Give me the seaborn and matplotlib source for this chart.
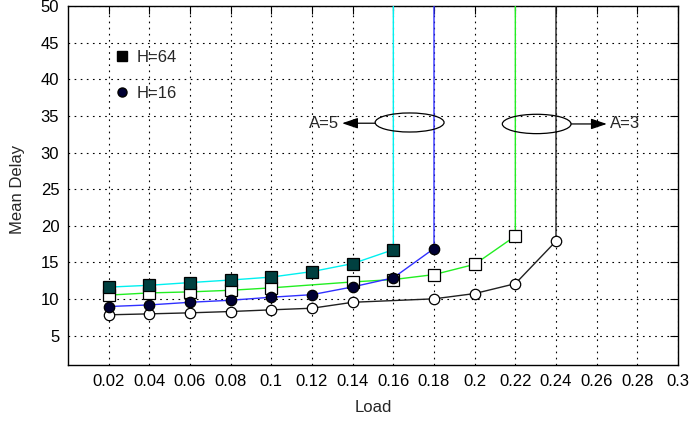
import numpy as np
import pandas as pd
import matplotlib
matplotlib.use("Agg")
import matplotlib.pyplot as plt
from matplotlib.lines import Line2D
from matplotlib.patches import Ellipse
import seaborn as sns

# Mean delay versus offered load; each curve blows up (vertical line) at saturation.
SATURATED = 1000.0

load_h64_a5 = [0.02, 0.04, 0.06, 0.08, 0.10, 0.12, 0.14, 0.16, 0.16]
delay_h64_a5 = [11.63, 11.88, 12.25, 12.6, 13.0, 13.75, 14.84, 16.74, SATURATED]

load_h16_a5 = [0.02, 0.04, 0.06, 0.08, 0.10, 0.12, 0.14, 0.16, 0.18, 0.18]
delay_h16_a5 = [8.98, 9.2, 9.56, 9.84, 10.25, 10.6, 11.66, 12.9, 16.9, SATURATED]

load_h64_a3 = [0.02, 0.04, 0.06, 0.08, 0.10, 0.14, 0.16, 0.18, 0.20, 0.22, 0.22]
delay_h64_a3 = [10.54, 10.84, 10.98, 11.2, 11.53, 12.34, 12.66, 13.34, 14.74, 18.6, SATURATED]

load_h16_a3 = [0.02, 0.04, 0.06, 0.08, 0.10, 0.12, 0.14, 0.18, 0.20, 0.22, 0.24, 0.24]
delay_h16_a3 = [7.85, 7.98, 8.12, 8.3, 8.53, 8.75, 9.56, 10.03, 10.75, 12.1, 17.9, SATURATED]

x_ticks = [0.02, 0.04, 0.06, 0.08, 0.10, 0.12, 0.14, 0.16, 0.18, 0.20,
           0.22, 0.24, 0.26, 0.28, 0.30]
x_tick_labels = ["0.02", "0.04", "0.06", "0.08", "0.1", "0.12", "0.14", "0.16",
                 "0.18", "0.2", "0.22", "0.24", "0.26", "0.28", "0.3"]
y_ticks = [5, 10, 15, 20, 25, 30, 35, 40, 45, 50]

FS = 12

sns.set_style("white")
plt.rcParams["font.family"] = ["Liberation Sans", "DejaVu Sans"]
plt.rcParams["font.size"] = FS

fig = plt.figure(figsize=(6.93, 4.23), dpi=100)
ax = fig.add_axes([68 / 693, 1 - 365 / 423, 610 / 693, 359 / 423])

series = [
    # (x, y, line colour, marker, face, edge)
    (load_h16_a3, delay_h16_a3, "#202020", "o", "white", "black"),
    (load_h64_a3, delay_h64_a3, "#22ee22", "s", "white", "black"),
    (load_h16_a5, delay_h16_a5, "#3030ff", "o", "#000033", "black"),
    (load_h64_a5, delay_h64_a5, "#00f0f0", "s", "#004040", "black"),
]

for xs, ys, col, mk, face, edge in series:
    df = pd.DataFrame({"Load": xs, "Mean Delay": ys})
    ms = 8 if mk == "s" else 7.5
    sns.lineplot(data=df, x="Load", y="Mean Delay", ax=ax, estimator=None,
                 sort=False, color=col, lw=1.0, zorder=3)
    pts = df[df["Mean Delay"] < SATURATED]
    ax.plot(pts["Load"], pts["Mean Delay"], ls="none", marker=mk, ms=ms,
            mfc=face, mec=edge, mew=0.9, zorder=4)

ax.set_xlim(0, 0.3)
ax.set_ylim(1, 50)
ax.set_xticks(x_ticks)
ax.set_xticklabels(x_tick_labels)
ax.set_yticks(y_ticks)
ax.set_xlabel("Load", fontsize=FS, labelpad=8)
ax.set_ylabel("Mean Delay", fontsize=FS)
ax.yaxis.set_label_coords(-0.071, 0.49)

ax.grid(True, color="black", lw=0.8, ls=(0, (1.5, 4)))
ax.tick_params(direction="in", length=6, width=0.8, top=True, right=True,
               labelsize=FS, colors="black")
ax.tick_params(axis="x", pad=6.5)
ax.tick_params(axis="y", pad=6.3)
for s in ax.spines.values():
    s.set_color("black")
    s.set_linewidth(1.0)

# Ellipses grouping the saturation lines for each A value
ax.add_patch(Ellipse((0.168, 34.1), 0.0339, 2.6, fill=False, ec="black", lw=0.9, zorder=5))
ax.add_patch(Ellipse((0.2305, 33.9), 0.0338, 2.64, fill=False, ec="black", lw=0.9, zorder=5))
arrow = dict(arrowstyle="-|>,head_length=0.8,head_width=0.27", color="black",
             lw=0.9, shrinkA=0, shrinkB=0)
ax.annotate("", xy=(0.1348, 34.0), xytext=(0.1512, 34.0), arrowprops=arrow, zorder=5)
ax.annotate("", xy=(0.2650, 33.9), xytext=(0.2474, 33.9), arrowprops=arrow, zorder=5)
ax.text(0.1333, 34.0, "A=5", ha="right", va="center", fontsize=FS, zorder=6)
ax.text(0.2665, 33.9, "A=3", ha="left", va="center", fontsize=FS, zorder=6)

handles = [
    Line2D([], [], ls="none", marker="s", ms=6.5, mfc="black", mec="black"),
    Line2D([], [], ls="none", marker="o", ms=6.5, mfc="#000033", mec="black"),
]
ax.legend(handles, ["H=64", "H=16"], loc="upper left", bbox_to_anchor=(0.0655, 0.902),
          frameon=False, fontsize=FS, handlelength=0.7, handletextpad=0.5,
          labelspacing=1.3, borderpad=0)

fig.savefig("out.png", dpi=100)
